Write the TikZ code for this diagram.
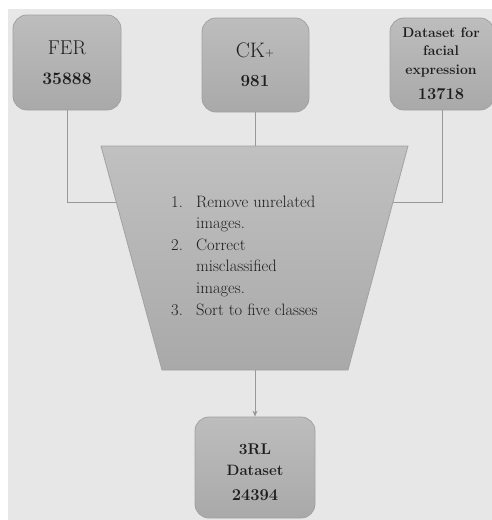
\documentclass[tikz,border=0pt]{standalone}
\usetikzlibrary{arrows.meta}
\definecolor{bg}{HTML}{E7E7E7}
\definecolor{boxtop}{HTML}{BDBDBD}
\definecolor{boxbot}{HTML}{A9A9A9}
\definecolor{boxline}{HTML}{A2A2A2}
\definecolor{conncol}{HTML}{989898}
\definecolor{txtcol}{HTML}{1E1E1E}
\begin{document}
\begin{tikzpicture}[x=1pt,y=-1pt,
  box/.style={rounded corners=14pt, draw=boxline, line width=0.8pt, top color=boxtop, bottom color=boxbot, inner sep=0pt},
  txt/.style={inner sep=0pt, text=txtcol, anchor=base},
  conn/.style={draw=conncol, line width=1pt},
  trap/.style={draw=boxline, line width=0.8pt, top color=boxtop!95!white, bottom color=boxbot}
]
\useasboundingbox (0,0) rectangle (492,520);
\fill[white] (0,0) rectangle (492,520);
\fill[bg] (8,9) rectangle (492,520);

% boxes
\node[box, minimum width=108pt, minimum height=95pt] (fer) at (67,62.5) {};
\node[box, minimum width=107pt, minimum height=94pt] (ck) at (255.5,65) {};
\node[box, minimum width=104pt, minimum height=92pt] (ds) at (442,64) {};
\node[box, minimum width=120pt, minimum height=101pt] (rl) at (255,467.5) {};

% trapezoid
\coordinate (tA) at (101,146);
\coordinate (tB) at (408,146);
\coordinate (tC) at (348,370);
\coordinate (tD) at (162,370);
\path[trap] (tA) -- (tB) -- (tC) -- (tD) -- cycle;
\coordinate (fl) at (116.25,202);
\coordinate (fr) at (392.75,202);
\coordinate (ttop) at (255,146);
\coordinate (tbot) at (255,370);

% connectors
\draw[conn] (fer.south) |- (fl);
\draw[conn] (ds.south) |- (fr);
\draw[conn] (ck.south) -- (ck.south |- ttop);
\draw[conn, -{Stealth[length=6pt,width=5pt]}] (tbot) -- (rl.north);

% box texts
\node[txt, font=\fontsize{20}{20}\selectfont] (fert) at (67,54) {FER};
\node[txt, font=\fontsize{17.5}{17.5}\selectfont\bfseries] (fern) at (67,84) {35888};
\node[txt, font=\fontsize{21}{21}\selectfont] (ckt) at (255,57) {CK{\fontsize{12}{12}\selectfont\raisebox{1pt}{+}}};
\node[txt, font=\fontsize{17}{17}\selectfont\bfseries] (ckn) at (255,86) {981};
\node[txt, font=\fontsize{14}{14}\selectfont\bfseries] (ds1) at (441,37) {Dataset for};
\node[txt, font=\fontsize{14}{14}\selectfont\bfseries] (ds2) at (441,55) {facial};
\node[txt, font=\fontsize{14}{14}\selectfont\bfseries] (ds3) at (441,74) {expression};
\node[txt, font=\fontsize{16.5}{16.5}\selectfont\bfseries] (ds4) at (441,99) {13718};
\node[txt, font=\fontsize{15.5}{15.5}\selectfont\bfseries] (rl1) at (255,454) {3RL};
\node[txt, font=\fontsize{15}{15}\selectfont\bfseries] (rl2) at (255,475) {Dataset};
\node[txt, font=\fontsize{16.5}{16.5}\selectfont\bfseries] (rl3) at (255,500) {24394};

% list in trapezoid
\node[txt, anchor=base west, font=\fontsize{16.5}{21.6}\selectfont] (steps) at (171,207) {%
\begin{tabular}[t]{@{}p{25pt}@{}l@{}}
1. & Remove unrelated\\
   & images.\\
2. & Correct\\
   & misclassified\\
   & images.\\
3. & Sort to five classes
\end{tabular}};
\end{tikzpicture}
\end{document}
